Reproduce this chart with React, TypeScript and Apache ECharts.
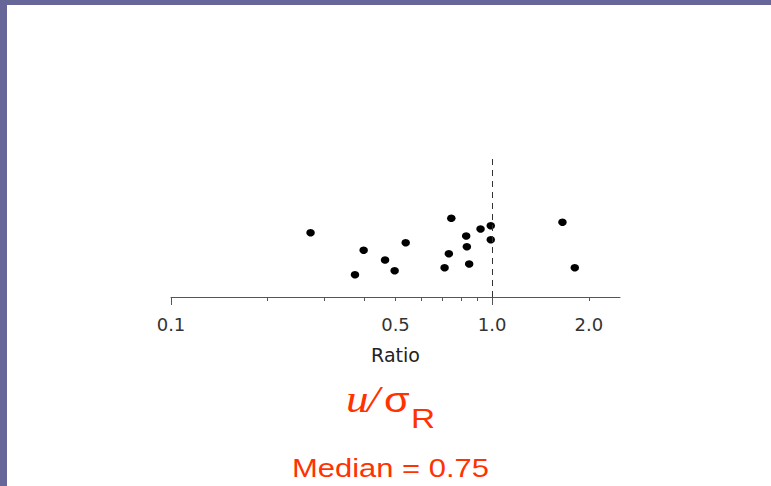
import { useEffect, useRef } from "react";
import * as echarts from "echarts";

// Ratio values (log scale) and their vertical jitter rows
const ratios = [0.272, 0.374, 0.398, 0.464, 0.497, 0.538, 0.711, 0.733, 0.746, 0.83, 0.834, 0.848, 0.92, 0.99, 0.99, 1.655, 1.808];
const offsets = [4.59, 1.59, 3.34, 2.64, 1.88, 3.88, 2.09, 3.09, 5.62, 4.36, 3.59, 2.36, 4.86, 5.09, 4.09, 5.34, 2.09];

// Axis range and tick positions (in ratio units)
const xMin = 0.1;
const xMax = 2.5;
const majorTicks = [0.1, 1.0];
const minorTicks = [0.2, 0.3, 0.4, 0.5, 0.6, 0.7, 0.8, 0.9, 2.0];
const tickLabels = [0.1, 0.5, 1.0, 2.0];
const referenceLine = 1.0;
const medianValue = 0.75;

const lg = (v: number) => Math.round(Math.log10(v) * 1e6) / 1e6;

const RED = "#ff3300";
const FRAME = "#666699";
const STRETCH = 1.19;

export default function App() {
  const ref = useRef<HTMLDivElement>(null);

  useEffect(() => {
    if (!ref.current) return;
    const chart = echarts.init(ref.current, null, { renderer: "svg" });

    const axisBase = {
      type: "value" as const,
      min: lg(xMin),
      max: lg(xMax),
      position: "bottom" as const,
      splitLine: { show: false },
    };

    chart.setOption({
      animation: false,
      backgroundColor: "#ffffff",
      grid: { left: 171, right: 151, top: 157, bottom: 189, outerBoundsMode: "none" },
      xAxis: [
        { type: "log", logBase: 10, min: xMin, max: xMax, show: false },
        {
          ...axisBase,
          axisLine: { show: true, onZero: false, lineStyle: { color: "#555555", width: 1 } },
          axisTick: {
            show: true,
            length: 4,
            customValues: minorTicks.map(lg),
            lineStyle: { color: "#555555", width: 1 },
          },
          axisLabel: {
            show: true,
            customValues: tickLabels.map(lg),
            formatter: (v: number) => Math.pow(10, v).toFixed(1),
            margin: 18,
            color: "#333333",
            fontFamily: "DejaVu Sans",
            fontSize: 18,
          },
          name: "Ratio",
          nameLocation: "middle",
          nameGap: 48,
          nameTextStyle: { color: "#222222", fontFamily: "DejaVu Sans", fontSize: 19 },
        },
        {
          ...axisBase,
          axisLine: { show: false, onZero: false },
          axisTick: {
            show: true,
            length: 8,
            customValues: majorTicks.map(lg),
            lineStyle: { color: "#555555", width: 1 },
          },
          axisLabel: { show: false },
        },
      ],
      yAxis: { type: "value", min: 0, max: 10, show: false },
      series: [
        {
          type: "scatter",
          xAxisIndex: 0,
          yAxisIndex: 0,
          data: ratios.map((r, i) => [r, offsets[i]]),
          symbol: "circle",
          symbolSize: [8.5, 7.5],
          itemStyle: { color: "#000000", opacity: 1 },
          emphasis: { disabled: true },
          markLine: {
            silent: true,
            symbol: ["none", "none"],
            label: { show: false },
            lineStyle: { type: [6, 5], color: "#333333", width: 1 },
            data: [{ xAxis: referenceLine }],
          },
        },
      ],
      graphic: [
        { type: "rect", shape: { x: 0, y: 0, width: 771, height: 5 }, style: { fill: FRAME }, z: 100 },
        { type: "rect", shape: { x: 0, y: 0, width: 7, height: 486 }, style: { fill: FRAME }, z: 100 },
        {
          type: "text",
          x: 346,
          y: 398.9,
          scaleX: STRETCH,
          style: {
            text: "u",
            fill: RED,
            font: "italic 38px 'Liberation Serif'",
            textAlign: "left",
            textVerticalAlign: "middle",
          },
        },
        {
          type: "text",
          x: 367,
          y: 398.9,
          scaleX: STRETCH,
          style: {
            text: "/",
            fill: RED,
            font: "italic 38px 'Liberation Serif'",
            textAlign: "left",
            textVerticalAlign: "middle",
          },
        },
        {
          type: "text",
          x: 384,
          y: 399.9,
          scaleX: STRETCH,
          style: {
            text: "σ",
            fill: RED,
            font: "35px 'Liberation Sans'",
            textAlign: "left",
            textVerticalAlign: "middle",
          },
        },
        {
          type: "text",
          x: 411,
          y: 418.3,
          scaleX: STRETCH,
          style: {
            text: "R",
            fill: RED,
            font: "28px 'Liberation Sans'",
            textAlign: "left",
            textVerticalAlign: "middle",
          },
        },
        {
          type: "text",
          x: 390.5,
          y: 467.7,
          scaleX: STRETCH,
          style: {
            text: `Median = ${medianValue.toFixed(2)}`,
            fill: RED,
            font: "26px 'Liberation Sans'",
            textAlign: "center",
            textVerticalAlign: "middle",
          },
        },
      ],
    });

    return () => chart.dispose();
  }, []);

  return (
    <div
      ref={ref}
      style={{ position: "fixed", left: 0, top: 0, width: 771, height: 486, background: "#ffffff" }}
    />
  );
}
